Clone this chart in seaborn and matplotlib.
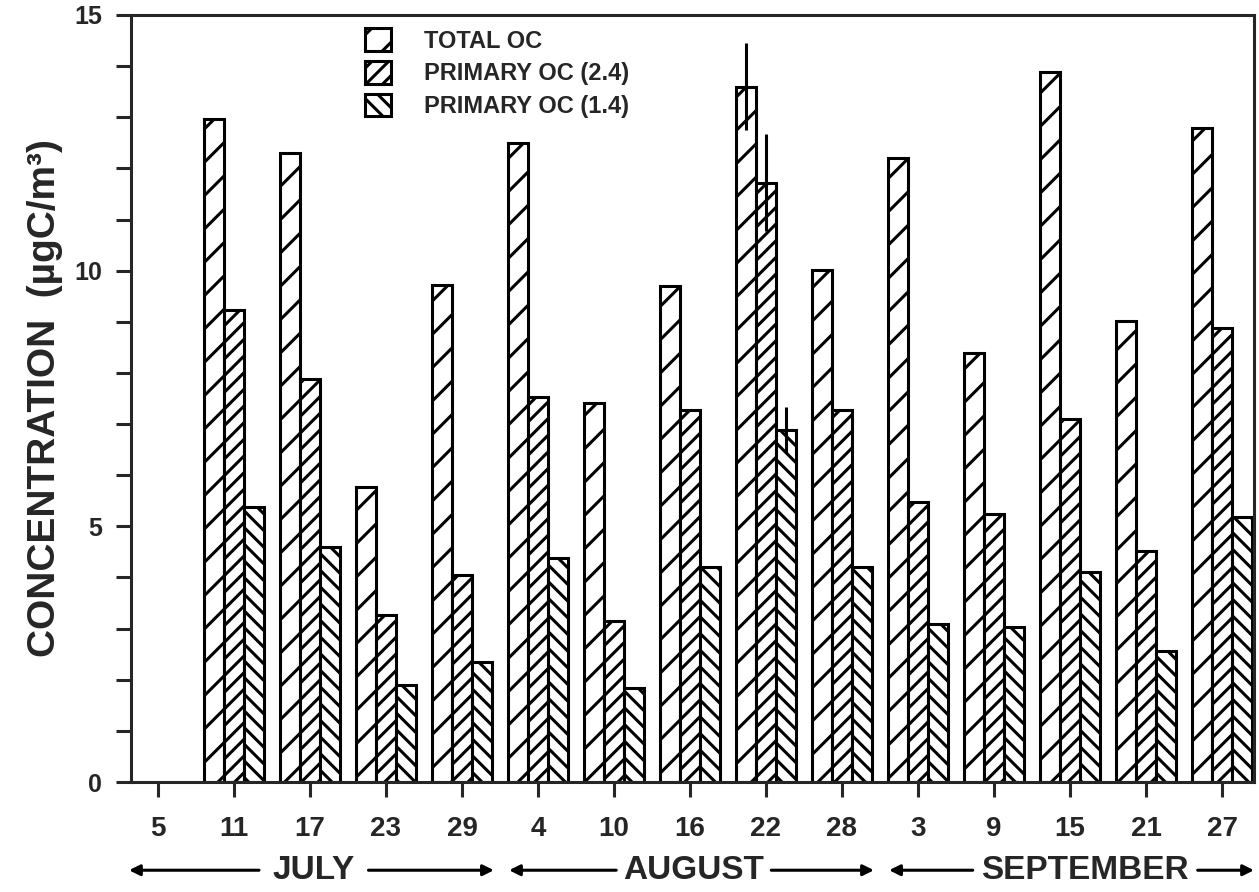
import numpy as np
import pandas as pd
import matplotlib.pyplot as plt
import matplotlib.patches as mpatches
import seaborn as sns

# sampling days (Jul 5 .. Sep 27, every 6 days)
dates = ['5', '11', '17', '23', '29', '4', '10', '16', '22', '28', '3', '9', '15', '21', '27']
month_of_date = ['JULY'] * 5 + ['AUGUST'] * 5 + ['SEPTEMBER'] * 5
months = ['JULY', 'AUGUST', 'SEPTEMBER']
series = ['TOTAL OC', 'PRIMARY OC (2.4)', 'PRIMARY OC (1.4)']

total_oc = [np.nan, 12.97, 12.30, 5.77, 9.72, 12.50, 7.41, 9.70, 13.60, 10.01, 12.20, 8.39, 13.89, 9.02, 12.79]
primary_24 = [np.nan, 9.23, 7.88, 3.27, 4.05, 7.53, 3.15, 7.28, 11.72, 7.28, 5.48, 5.24, 7.10, 4.52, 8.88]
primary_14 = [np.nan, 5.38, 4.60, 1.90, 2.35, 4.38, 1.84, 4.20, 6.88, 4.20, 3.09, 3.03, 4.11, 2.56, 5.18]

# uncertainty bars, only given for Aug 22
err_date = '22'
err_vals = [0.85, 0.95, 0.45]

hatches = ['//', '////', '\\\\\\\\']

df = pd.DataFrame({
    'date': dates * 3,
    'series': sum([[s] * len(dates) for s in series], []),
    'value': total_oc + primary_24 + primary_14,
}).dropna()

BOLD = ['Liberation Sans', 'DejaVu Sans']

sns.set_style('ticks')
plt.rcParams['font.family'] = BOLD
plt.rcParams['hatch.linewidth'] = 1.1
plt.rcParams['hatch.color'] = 'black'

fig = plt.figure(figsize=(6.295, 4.46), dpi=200)
ax = fig.add_axes([0.104, 0.1233, 0.892, 0.8599])

sns.barplot(data=df, x='date', y='value', hue='series', order=dates, hue_order=series,
            palette=['white'] * 3, saturation=1, edgecolor='black', linewidth=1.1,
            width=0.78, errorbar=None, legend=False, ax=ax)

idx = dates.index(err_date)
for cont, h, e in zip(ax.containers, hatches, err_vals):
    for p in cont.patches:
        p.set_hatch(h)
        p.set_edgecolor('black')
        cx = p.get_x() + p.get_width() / 2
        if abs(cx - idx) < 0.45:
            top = p.get_height()
            ax.vlines(cx, top - e, top + e, color='black', lw=1.1, zorder=5, clip_on=False)

ax.set_xlim(-0.355, 14.42)
ax.set_ylim(0, 15)
ax.set_yticks([0, 5, 10, 15])
ax.set_yticks(np.arange(0, 16, 1), minor=True)
for s in ax.spines.values():
    s.set_linewidth(1.1)
ax.tick_params(axis='both', which='both', direction='out', length=5.4, width=1.1)
ax.tick_params(axis='y', labelsize=9, pad=5)
ax.tick_params(axis='x', labelsize=10, pad=7)
for t in ax.get_yticklabels() + ax.get_xticklabels():
    t.set_fontweight('heavy')
ax.set_xlabel('')
ax.set_ylabel('CONCENTRATION  (µgC/m³)', fontsize=14, fontweight='heavy', labelpad=4)

# month spans with arrows below the day labels
gaps = {'JULY': 0.72, 'AUGUST': 1.02, 'SEPTEMBER': 1.48}
for m in months:
    pos = [i for i, mm in enumerate(month_of_date) if mm == m]
    lo, hi = pos[0] - 0.38, pos[-1] + 0.42
    mid = (pos[0] + pos[-1]) / 2 + (0.2 if m == 'SEPTEMBER' else 0.05)
    ax.text(mid, -0.115, m, transform=ax.get_xaxis_transform(), ha='center', va='center',
            fontsize=12, fontweight='heavy')
    for a, b in [(mid - gaps[m], lo), (mid + gaps[m], hi)]:
        ax.annotate('', xy=(b, -0.115), xytext=(a, -0.115), xycoords=ax.get_xaxis_transform(),
                    arrowprops=dict(arrowstyle='-|>', color='black', lw=1.1,
                                    mutation_scale=8, shrinkA=0, shrinkB=0),
                    annotation_clip=False)

handles = [mpatches.Patch(facecolor='white', edgecolor='black', hatch=h, lw=1.1, label=s)
           for h, s in zip(hatches, series)]
ax.legend(handles=handles, loc='upper left', bbox_to_anchor=(0.2, 0.995), frameon=False,
          prop={'weight': 'heavy', 'size': 8.5}, handlelength=1.1, handleheight=1.1,
          labelspacing=0.35, handletextpad=1.4, borderaxespad=0)

fig.savefig('out.png', dpi=200)
